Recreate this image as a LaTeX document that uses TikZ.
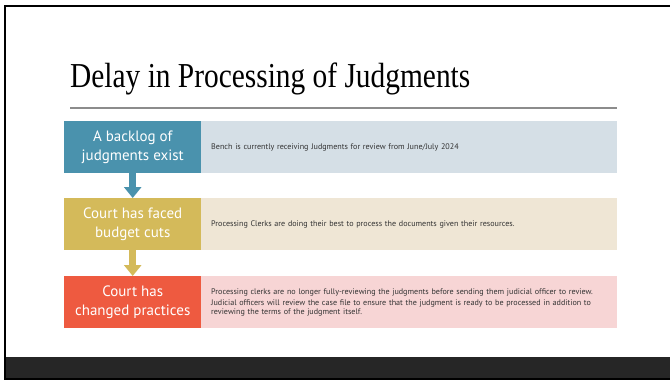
\documentclass[tikz,border=0pt]{standalone}
\usepackage{fontspec}
\setmainfont{PT Sans}
\newfontfamily\titlefont[FakeStretch=0.84]{Liberation Serif}
\usetikzlibrary{arrows.meta}
\definecolor{tealc}{HTML}{4A92AD}
\definecolor{mustc}{HTML}{D4BA5A}
\definecolor{redc}{HTML}{EE5A40}
\definecolor{lbluec}{HTML}{D5DFE6}
\definecolor{beigec}{HTML}{EFE6D5}
\definecolor{pinkc}{HTML}{F7D5D5}
\definecolor{barc}{HTML}{262626}
\definecolor{rulec}{HTML}{8C8C8C}
\definecolor{txtc}{HTML}{333333}
\begin{document}
\begin{tikzpicture}[x=1pt,y=-1pt,
  leftbox/.style={fill=#1, minimum width=137pt, minimum height=52pt, inner sep=0pt,
    text=white, align=center, font=\fontsize{15}{18.5}\selectfont, anchor=north west},
  rightbox/.style={fill=#1, minimum width=416pt, minimum height=52pt, inner xsep=10pt, inner ysep=0pt,
    text width=396pt, align=left, text=txtc, font=\fontsize{8.1}{8.6}\selectfont, anchor=north west},
  flowarrow/.style={draw=#1, line width=7pt, -{Triangle[width=17pt 0 0,length=11pt 0 0]}}]
\useasboundingbox (0,0) rectangle (670,380);
\fill[black] (4,5) rectangle (670,380);
\fill[white] (6,7) rectangle (670,357);
\fill[barc] (6,357) rectangle (670,378);
\node[anchor=base west, inner sep=0pt, font=\titlefont\fontsize{35}{40}\selectfont] (title) at (70,87) {Delay in Processing of Judgments};
\coordinate (rl) at (70,108);
\coordinate (rr) at (617,108);
\draw[rulec, line width=1.2pt] (rl) -- (rr);
\node[leftbox=tealc] (L1) at (64,121) {A backlog of\\judgments exist};
\node[rightbox=lbluec] (R1) at (201,121) {Bench is currently receiving Judgments for review from June/July 2024};
\node[leftbox=mustc] (L2) at (64,198) {Court has faced\\budget cuts};
\node[rightbox=beigec] (R2) at (201,198) {Processing Clerks are doing their best to process the documents given their resources.};
\node[leftbox=redc] (L3) at (64,276) {Court has\\changed practices};
\node[rightbox=pinkc] (R3) at (201,276) {Processing clerks are no longer fully-reviewing the judgments before sending them judicial officer to review.\par\vspace{2.5pt}
Judicial officers will review the case file to ensure that the judgment is ready to be processed in addition to\\reviewing the terms of the judgment itself.};
\draw[flowarrow=tealc] (L1.south) -- (L2.north);
\draw[flowarrow=mustc] (L2.south) -- (L3.north);
\end{tikzpicture}
\end{document}
